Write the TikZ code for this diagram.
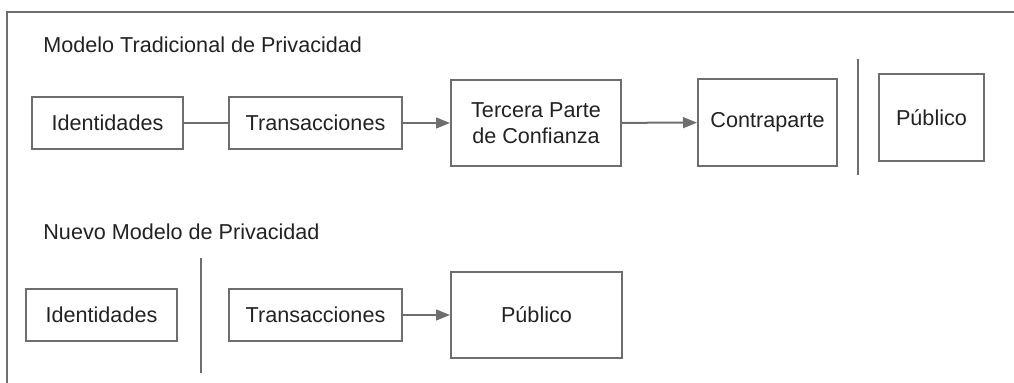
\documentclass[tikz,border=0pt]{standalone}
\usepackage{fontspec}
\setmainfont{Liberation Sans}
\usetikzlibrary{arrows.meta}
\definecolor{linegray}{HTML}{6E6E6E}
\definecolor{textgray}{HTML}{222222}
\begin{document}
\begin{tikzpicture}[x=0.5pt,y=-0.5pt,
    font=\fontsize{10.8}{12.9}\selectfont, text=textgray,
    box/.style={draw=linegray, line width=1pt, inner sep=0pt, align=center,
      minimum height=26pt},
    link/.style={draw=linegray, line width=1pt},
    flow/.style={link, -{Triangle[length=7pt,width=5.4pt]}},
    title/.style={anchor=west, inner sep=0pt}]
  \useasboundingbox (0,0) rectangle (1014,383);
  \draw[linegray, line width=1pt] (7,390) -- (7,12) -- (1020,12);
  % traditional model
  \node[title] (ttrad) at (43,45) {Modelo Tradicional de Privacidad};
  \node[box, minimum width=75.5pt] (idA) at (107.5,123) {Identidades};
  \node[box, minimum width=86.5pt] (trA) at (315.5,123) {Transacciones};
  \node[box, minimum width=85pt, minimum height=43pt] (tpc) at (536,123) {Tercera Parte\\de Confianza};
  \node[box, minimum width=69.5pt, minimum height=43.5pt] (cp) at (767.5,122.5) {Contraparte};
  \node[box, minimum width=52.5pt, minimum height=43.5pt] (pubA) at (931.5,117.5) {Público};
  \draw[link] (idA) -- (trA);
  \draw[flow] (trA) -- (tpc);
  \draw[flow] (tpc) -- (cp);
  % new model
  \node[title] (tnew) at (43,232) {Nuevo Modelo de Privacidad};
  \node[box, minimum width=75.5pt] (idB) at (101.5,315) {Identidades};
  \node[box, minimum width=86.5pt] (trB) at (315.5,315) {Transacciones};
  \node[box, minimum width=85.5pt, minimum height=43pt] (pubB) at (536.5,315) {Público};
  \draw[flow] (trB) -- (pubB);
  % separators
  \foreach \sx/\sa/\sb in {858/59/175, 201/258/373}
    \draw[linegray, line width=1pt] (\sx,\sa) -- (\sx,\sb);
\end{tikzpicture}
\end{document}
